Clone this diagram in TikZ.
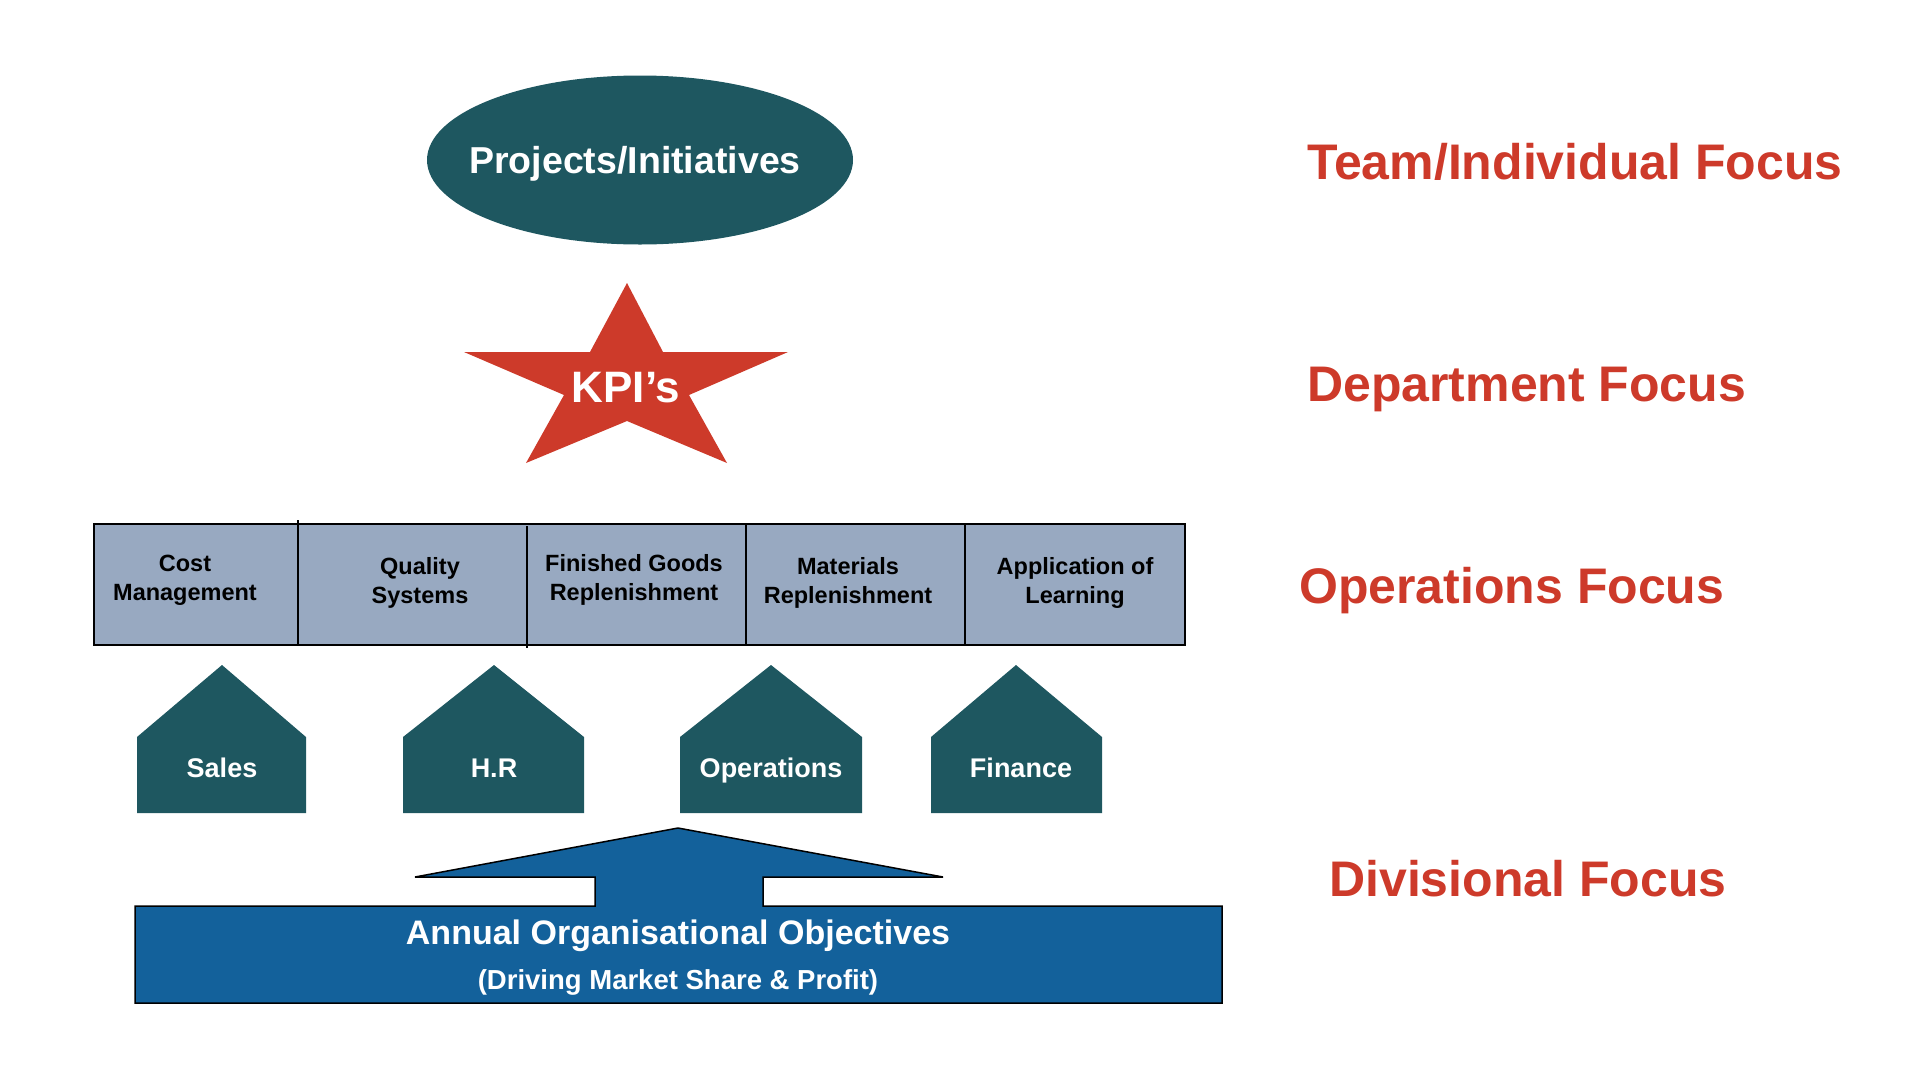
\documentclass[tikz,border=0pt]{standalone}
\usepackage{fontspec}
\setmainfont{Liberation Sans}
\usetikzlibrary{shapes.geometric}
\definecolor{teal1}{HTML}{1E5760}
\definecolor{redA}{HTML}{CD3A2A}
\definecolor{boxfill}{HTML}{98A9C1}
\definecolor{blueA}{HTML}{13619B}
\tikzset{
  focus/.style={anchor=base west, inner sep=0pt, text=redA, font=\fontsize{50}{60}\selectfont\bfseries},
  coltext/.style={align=center, inner sep=0pt, text=black, font=\fontsize{23.5}{29}\selectfont\bfseries},
  house/.style={fill=teal1, draw=none},
  houselabel/.style={anchor=base, inner sep=0pt, text=white, font=\fontsize{27}{32}\selectfont\bfseries},
  divline/.style={draw=black, line width=2pt},
}
\begin{document}
\begin{tikzpicture}[x=1pt,y=-1pt]
\useasboundingbox (0,0) rectangle (1920,1080);

% Ellipse
\node (proj) [ellipse, fill=teal1, minimum width=426pt, minimum height=169pt, inner sep=0pt] at (640,160) {};
\node (projtxt) [anchor=base, inner sep=0pt, text=white, font=\fontsize{37.5}{44}\selectfont\bfseries] at (635,173) {Projects/Initiatives};

% Star
\fill[redA] (627,283) -- (663,352) -- (788,352) -- (689,395) -- (727,463) -- (627,421) -- (526,463) -- (564,395) -- (464,352) -- (590,352) -- cycle;
\node (kpi) [anchor=base, inner sep=0pt, text=white, font=\fontsize{44}{52}\selectfont\bfseries] at (626,402) {KPI’s};

% Operations row
\node (row) [draw=black, line width=2pt, fill=boxfill, minimum width=1091pt, minimum height=121pt, inner sep=0pt, anchor=north west] at (93,523) {};
\coordinate (d1t) at (298,520); \coordinate (d1b) at (298,644);
\coordinate (d2t) at (527,526); \coordinate (d2b) at (527,648);
\coordinate (d3t) at (746,523); \coordinate (d3b) at (746,644);
\coordinate (d4t) at (965,523); \coordinate (d4b) at (965,644);
\draw[divline] (d1t) -- (d1b);
\draw[divline] (d2t) -- (d2b);
\draw[divline] (d3t) -- (d3b);
\draw[divline] (d4t) -- (d4b);
\node (c1) [coltext] at (185,580) {Cost\\Management};
\node (c2) [coltext] at (420,583) {Quality\\Systems};
\node (c3) [coltext] at (634,580) {Finished Goods\\Replenishment};
\node (c4) [coltext] at (848,583) {Materials\\Replenishment};
\node (c5) [coltext] at (1075,583) {Application of\\Learning};

% Houses
\fill[house] (137,813) -- (137,737) -- (222,665) -- (306,737) -- (306,813) -- cycle;
\node (sales) [houselabel] at (222,777) {Sales};
\fill[house] (403,813) -- (403,737) -- (494,665) -- (584,737) -- (584,813) -- cycle;
\node (hr) [houselabel] at (494,777) {H.R};
\fill[house] (680,813) -- (680,737) -- (771,665) -- (862,737) -- (862,813) -- cycle;
\node (ops) [houselabel] at (771,777) {Operations};
\fill[house] (931,813) -- (931,737) -- (1016,665) -- (1102,737) -- (1102,813) -- cycle;
\node (fin) [houselabel] at (1021,777) {Finance};

% Big arrow
\filldraw[fill=blueA, draw=black, line width=1.5pt, line join=miter]
  (135,906) -- (595,906) -- (595,877) -- (415,877) -- (678,828) -- (943,877) -- (763,877) -- (763,906) -- (1222,906) -- (1222,1003) -- (135,1003) -- cycle;
\node (aoo) [anchor=base, inner sep=0pt, text=white, font=\fontsize{34}{40}\selectfont\bfseries] at (678,944) {Annual Organisational Objectives};
\node (dms) [anchor=base, inner sep=0pt, text=white, font=\fontsize{27.5}{33}\selectfont\bfseries] at (678,989) {(Driving Market Share \& Profit)};

% Right labels
\node (f1) [focus] at (1307,179) {Team/Individual Focus};
\node (f2) [focus] at (1307,401) {Department Focus};
\node (f3) [focus] at (1299,603) {Operations Focus};
\node (f4) [focus] at (1329,896) {Divisional Focus};
\end{tikzpicture}
\end{document}
